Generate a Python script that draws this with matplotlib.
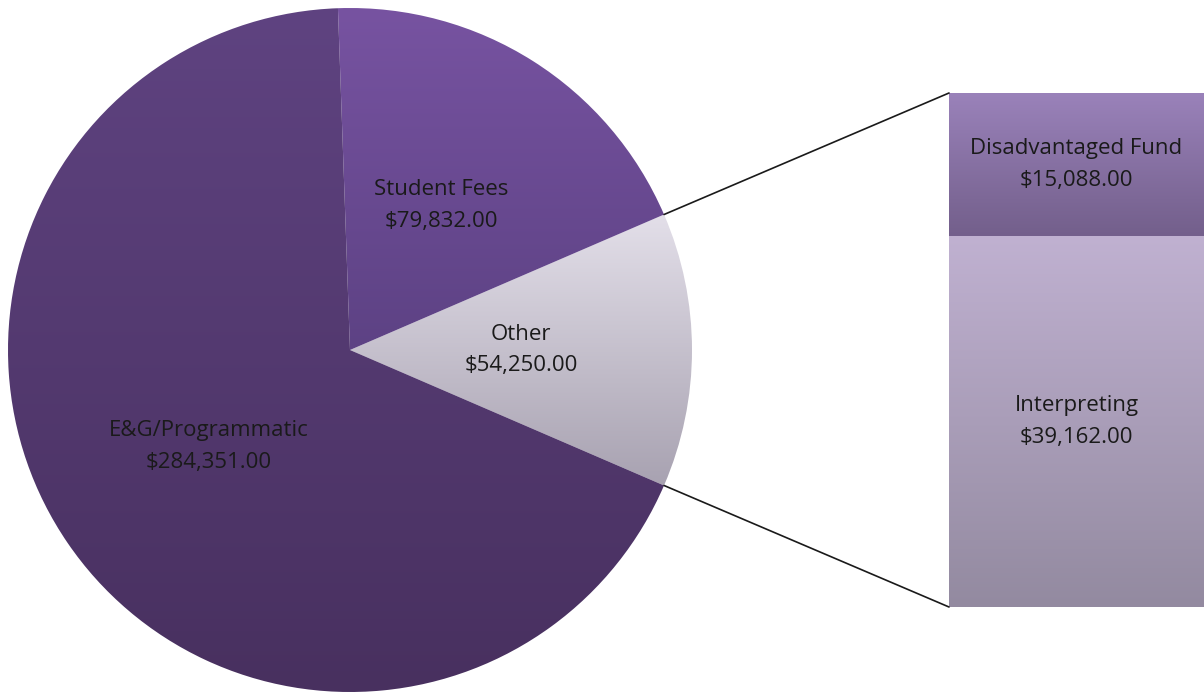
import numpy as np
import matplotlib.pyplot as plt
from matplotlib.colors import to_rgb
from matplotlib.patches import ConnectionPatch

# pie data (Other first so it sits on the right, split into the bar)
pie_labels = ['Other', 'Student Fees', 'E&G/Programmatic']
pie_values = [54250.00, 79832.00, 284351.00]
bar_labels = ['Interpreting', 'Disadvantaged Fund']
bar_values = [39162.00, 15088.00]

pie_grad = [('#e3dfe9', '#a8a2b1'), ('#7753a1', '#5d4284'), ('#5f4381', '#48305f')]
bar_grad = [('#c0b1d1', '#938aa0'), ('#9a82ba', '#735f8b')]

plt.rcParams['font.family'] = ['Open Sans', 'DejaVu Sans']
FS = 16
TXT = '#1a1a1a'


def money(v):
    return '${:,.2f}'.format(v)


def grad_fill(ax, patch, c_top, c_bot, ext):
    x0, x1, y0, y1 = ext
    t = np.linspace(0, 1, 256)[:, None]
    top = np.array(to_rgb(c_top))
    bot = np.array(to_rgb(c_bot))
    img = top[None, None, :] * (1 - t[:, :, None]) + bot[None, None, :] * t[:, :, None]
    img = np.repeat(img, 2, axis=1)
    im = ax.imshow(img, extent=[x0, x1, y0, y1], origin='upper', aspect='auto',
                   interpolation='bilinear', zorder=1)
    im.set_clip_path(patch)


fig = plt.figure(figsize=(12.04, 6.94), dpi=100)
ax = fig.add_axes([0, 0, 1, 1])

cx, cy, r = 350, 344, 342
start = -pie_values[0] / sum(pie_values) * 360 / 2
wedges, _ = ax.pie(pie_values, center=(cx, cy), radius=r, startangle=start,
                   counterclock=True, frame=True,
                   wedgeprops=dict(linewidth=0, facecolor='none'))
ax.set_xlim(0, 1204)
ax.set_ylim(0, 694)
ax.axis('off')

for w, (ct, cb), lab, val in zip(wedges, pie_grad, pie_labels, pie_values):
    bb = w.get_path().get_extents(w.get_transform())
    inv = ax.transData.inverted()
    (x0, y0), (x1, y1) = inv.transform([[bb.x0, bb.y0], [bb.x1, bb.y1]])
    grad_fill(ax, w, ct, cb, (x0, x1, y0, y1))
    mid = np.deg2rad((w.theta1 + w.theta2) / 2)
    ax.text(cx + 0.5 * r * np.cos(mid), cy + 0.5 * r * np.sin(mid),
            lab + '\n' + money(val), ha='center', va='center', fontsize=FS,
            color=TXT, linespacing=1.65, zorder=5)

ax.set_xlim(0, 1204)
ax.set_ylim(0, 694)

# stacked bar for the Other breakdown
bx = fig.add_axes([949 / 1204, 87 / 694, 255 / 1204, 514 / 694])
bx.set_xlim(-0.5, 0.5)
bx.set_ylim(0, sum(bar_values))
bx.axis('off')
bottom = 0
for v, (ct, cb), lab in zip(bar_values, bar_grad, bar_labels):
    rect = bx.bar(0, v, width=1, bottom=bottom, color='none', linewidth=0)[0]
    grad_fill(bx, rect, ct, cb, (-0.5, 0.5, bottom, bottom + v))
    bx.text(0, bottom + v / 2, lab + '\n' + money(v), ha='center', va='center',
            fontsize=FS, color=TXT, linespacing=1.65, zorder=5)
    bottom += v
bx.set_xlim(-0.5, 0.5)
bx.set_ylim(0, sum(bar_values))

# connector lines
w0 = wedges[0]
for ang, yb in [(w0.theta2, sum(bar_values)), (w0.theta1, 0)]:
    a = np.deg2rad(ang)
    p = (cx + r * np.cos(a), cy + r * np.sin(a))
    con = ConnectionPatch(xyA=(-0.5, yb), coordsA=bx.transData, xyB=p,
                          coordsB=ax.transData, color='#1a1a1a', linewidth=1.2)
    fig.add_artist(con)

fig.savefig('out.png', dpi=100, facecolor='white')
